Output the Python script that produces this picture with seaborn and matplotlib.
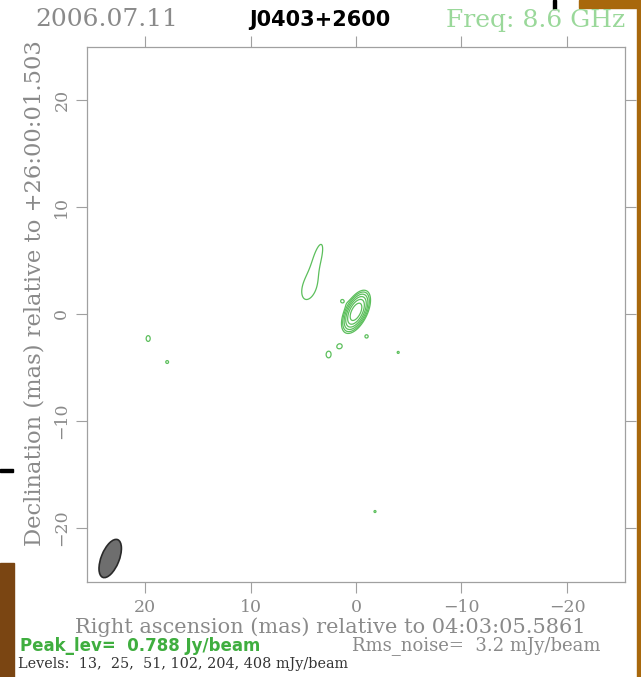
import numpy as np
import matplotlib
matplotlib.use("Agg")
import matplotlib.pyplot as plt
from matplotlib.patches import Ellipse, Rectangle
import seaborn as sns

# header / footer text
obs_date = "2006.07.11"
source_name = "J0403+2600"
freq_text = "Freq: 8.6 GHz"
ra_ref = "04:03:05.5861"
dec_ref = "+26:00:01.503"
peak_text = "Peak_lev=  0.788 Jy/beam"
rms_text = "Rms_noise=  3.2 mJy/beam"
levels_text = "Levels:  13,  25,  51, 102, 204, 408 mJy/beam"

# contour levels (mJy/beam)
levels = [13, 25, 51, 102, 204, 408]

# clean components: x (mas, east), y (mas), peak (mJy/beam),
# sigma major, sigma minor (mas), position angle (deg, east of north)
comp_x = [0.0, 3.7, 4.45, 19.7, 17.9, 2.6, 1.5, 1.3, -1.0, -4.0, -1.8]
comp_y = [0.2, 5.1, 2.4, -2.3, -4.5, -3.8, -3.0, 1.2, -2.1, -3.6, -18.5]
comp_peak = [788, 17, 17, 14, 14, 14, 14, 14, 14, 14, 14]
comp_smaj = [0.77, 2.0, 1.1, 0.7, 0.35, 0.8, 0.35, 0.4, 0.4, 0.25, 0.25]
comp_smin = [0.37, 0.5, 0.65, 0.5, 0.35, 0.6, 0.35, 0.4, 0.4, 0.25, 0.25]
comp_pa = [-27, -16, -20, 0, 0, 0, 0, 0, 0, 0, 0]

# restoring beam (mas, deg) and position in the corner
beam_x, beam_y = 23.3, -22.9
beam_maj, beam_min, beam_pa = 3.8, 1.7, -22

x_ticks = [20, 10, 0, -10, -20]
y_ticks = [-20, -10, 0, 10, 20]

GRAY = "#8a8a8a"
GREEN = "#5cbf5c"


def model_map(X, Y):
    img = np.zeros_like(X)
    for x0, y0, pk, a, b, pa in zip(comp_x, comp_y, comp_peak, comp_smaj, comp_smin, comp_pa):
        t = np.deg2rad(pa)
        dx, dy = X - x0, Y - y0
        u = dx * np.sin(t) + dy * np.cos(t)
        v = dx * np.cos(t) - dy * np.sin(t)
        img += pk * np.exp(-0.5 * (u ** 2 / a ** 2 + v ** 2 / b ** 2))
    return img


def tick_text(t):
    return "\u2212" + str(-t) if t < 0 else str(t)


def main():
    sns.set_theme(style="ticks")
    plt.rcParams["font.family"] = ["DejaVu Serif"]

    fig = plt.figure(figsize=(6.41, 6.77), dpi=100)
    ax = fig.add_axes([87 / 641, 1 - 582 / 677, 538 / 641, 535 / 677])

    xs = np.arange(-25.5, 25.5, 0.04)
    ys = np.arange(-25.0, 25.0, 0.04)
    X, Y = np.meshgrid(xs, ys)
    img = model_map(X, Y)
    ax.contour(X, Y, img, levels=levels, colors=GREEN, linewidths=0.9)

    beam = Ellipse((beam_x, beam_y), width=beam_min, height=beam_maj, angle=-beam_pa,
                   facecolor="#6e6e6e", edgecolor="#2a2a2a", lw=1.2)
    ax.add_patch(beam)

    ax.set_xlim(25.5, -25.5)
    ax.set_ylim(-25.1, 25.0)
    ax.set_xticks(x_ticks)
    ax.set_yticks(y_ticks)
    ax.set_xticklabels([tick_text(t) for t in x_ticks], fontsize=12.5, color=GRAY)
    ax.set_yticklabels([tick_text(t) for t in y_ticks], fontsize=12.5, color=GRAY,
                       rotation=90, va="center")
    ax.tick_params(direction="out", length=8, width=0.8, color="#a0a0a0",
                   top=True, right=True, labeltop=False, labelright=False, pad=4)
    for s in ax.spines.values():
        s.set_color("#a0a0a0")
        s.set_linewidth(0.9)
    ax.set_facecolor("white")

    # axis titles placed like the original plot
    fig.text(330 / 641, 1 - 627 / 677, f"Right ascension (mas) relative to {ra_ref}",
             fontsize=15, color=GRAY, ha="center", va="center")
    fig.text(35 / 641, 1 - 293 / 677, f"Declination (mas) relative to {dec_ref}",
             fontsize=16.3, color=GRAY, ha="center", va="center", rotation=90)

    # header
    fig.text(35 / 641, 1 - 20 / 677, obs_date, fontsize=18, color=GRAY, va="center")
    fig.text(320 / 641, 1 - 20 / 677, source_name, fontsize=15, color="black",
             fontweight="bold", family="DejaVu Sans", ha="center", va="center")
    fig.text(625 / 641, 1 - 20 / 677, freq_text, fontsize=18, color="#9ad89a",
             ha="right", va="center")

    # footer
    fig.text(20 / 641, 1 - 646 / 677, peak_text, fontsize=12, color="#3fae3f",
             fontweight="bold", family="DejaVu Sans", va="center")
    fig.text(352 / 641, 1 - 646 / 677, rms_text, fontsize=13, color=GRAY, va="center")
    fig.text(18 / 641, 1 - 664 / 677, levels_text, fontsize=10.4, color="#333333", va="center")

    # slide background bits at the edges
    fig.patches.append(Rectangle((0, 0), 14 / 641, 114 / 677, transform=fig.transFigure,
                                 color="#7a4512", zorder=0))
    fig.patches.append(Rectangle((579 / 641, 1 - 8 / 677), 62 / 641, 8 / 677,
                                 transform=fig.transFigure, color="#a8680c", zorder=0))
    fig.patches.append(Rectangle((637 / 641, 0), 4 / 641, 1, transform=fig.transFigure,
                                 color="#a8680c", zorder=0))
    fig.patches.append(Rectangle((0, 1 - 472 / 677), 13 / 641, 3 / 677,
                                 transform=fig.transFigure, color="black", zorder=0))
    fig.patches.append(Rectangle((553 / 641, 1 - 9 / 677), 3 / 641, 9 / 677,
                                 transform=fig.transFigure, color="black", zorder=0))

    fig.savefig("out.png", dpi=100)
    plt.close(fig)


if __name__ == "__main__":
    main()
